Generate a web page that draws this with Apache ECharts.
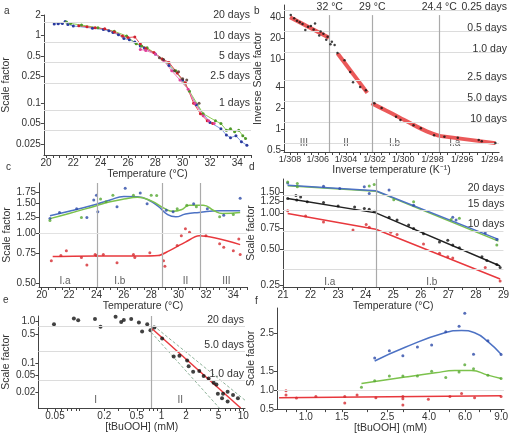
<!DOCTYPE html>
<html>
<head>
<meta charset="utf-8">
<script src="https://cdn.jsdelivr.net/npm/echarts@6/dist/echarts.min.js"></script>
<style>
  html, body { margin: 0; background: #fff; }
  #chart { width: 512px; height: 435px; }
</style>
</head>
<body>
<div id="chart"></div>
<script>
var FONT = '"Liberation Sans", Arial, sans-serif';
var lg = function (v) { return Math.log10(v); };
var inv = function (v) { return 1 / v; };
var ident = function (v) { return v; };

// ---------- panel a : scale factor vs temperature
var aXLabels = [20, 22, 24, 26, 28, 30, 32, 34];
var aYLabels = [2, 1, 0.5, 0.25, 0.1, 0.05, 0.025];
var aDayLevels = [1.6, 0.8, 0.4, 0.2, 0.08, 0.04];
var aDayNames = ['20 days', '10 days', '5 days', '2.5 days', '1 days', ''];
var aBlue = [[20.6,1.47],[20.9,1.49],[21.2,1.5],[21.4,1.6],[21.6,1.45],[22.0,1.38],[23.4,1.28],[24.2,1.22],[24.6,1.17],[24.9,1.1],[25.3,1.02],[25.7,0.9],[26.1,0.86],[26.5,0.8],[26.9,0.7],[27.2,0.65],[28.0,0.53],[29.0,0.36],[30.0,0.22],[31.0,0.095],[32.0,0.052],[32.8,0.042],[33.2,0.034],[33.5,0.031],[33.9,0.033],[34.3,0.027],[34.7,0.024]];
var aGreen = [[21.5,1.58],[21.8,1.5],[22.6,1.42],[23.8,1.3],[25.0,1.15],[25.9,0.98],[26.6,0.75],[27.0,0.7],[27.4,0.66],[28.5,0.45],[29.5,0.3],[30.5,0.15],[31.5,0.07],[32.4,0.055],[32.8,0.05],[33.2,0.04],[33.5,0.042],[33.8,0.038],[34.1,0.04],[34.4,0.033],[34.6,0.03]];
var aRed = [[22.4,1.39],[23.0,1.34],[23.6,1.3],[24.3,1.25],[25.0,1.12],[25.6,0.98],[26.0,0.93],[26.5,0.95],[26.9,0.75],[27.3,0.64],[27.9,0.56],[28.5,0.45],[29.0,0.4],[29.6,0.28],[30.2,0.2],[30.8,0.1],[31.3,0.07],[31.8,0.055],[32.2,0.05]];
var aPink = [[26.9,0.62],[27.3,0.6],[28.0,0.53],[28.6,0.43],[29.2,0.3],[29.8,0.22],[30.4,0.16],[30.9,0.1],[31.5,0.065],[31.9,0.055],[32.3,0.05]];
var aDark = [[28.3,0.47],[28.6,0.44],[29.4,0.3],[29.7,0.29],[30.0,0.23],[30.3,0.22],[31.2,0.1]];

// ---------- panel b : inverse scale factor vs inverse temperature (K)
var bXLabels = [308, 306, 304, 302, 300, 298, 296, 294];
var bYLabels = [40, 20, 10, 4, 2, 1, 0.5];
var bDayLevels = [50, 25, 12.5, 5, 2.5, 1.25, 0.625];
var bDayNames = ['0.25 days', '0.5 days', '1.0 day', '2.5 days', '5.0 days', '10 days', ''];
var bBreaks = [305.15, 302.15, 297.55];
var bBreakNames = ['32 \u00b0C', '29 \u00b0C', '24.4 \u00b0C'];
var bPoints = [[307.95,43],[307.7,38.7],[307.5,35.6],[307.3,34],[307.1,32],[306.9,26.4],[306.7,29.3],[306.5,30],[306.3,26.8],[306.2,32.7],[305.9,22],[305.8,25],[305.6,23.2],[305.4,19],[305.3,21],[305.1,16.5],[305.0,17.9],[304.8,16.1],[304.6,12.3],[304.1,9.7],[303.7,6.6],[303.5,4.7],[303.0,4.0],[302.6,3.6],[302.0,2.34],[301.5,2.0],[300.5,1.5],[300.2,1.35],[299.3,1.14],[298.8,1.03],[297.9,0.82],[297.2,0.78],[296.3,0.75],[294.9,0.70],[294.7,0.67],[293.8,0.63]];
var bFitIII = [[308.0,40],[305.2,20.3]];
var bFitII = [[304.6,12.2],[302.5,3.3]];
var bFitIb = [[302.2,2.35],[301.2,1.85],[300.3,1.48],[299.3,1.15],[298.4,0.93],[297.55,0.8]];
var bFitIa = [[297.55,0.8],[293.8,0.63]];
var bRegions = [[307.0,0.625,'III'],[304.0,0.625,'II'],[300.6,0.625,'I.b'],[296.5,0.625,'I.a']];

// ---------- panel c : scale factor vs temperature, three strains
var cXLabels = [20, 22, 24, 26, 28, 30, 32, 34];
var cYLabels = [2.0, 1.75, 1.5, 1.25, 1.0, 0.75, 0.5];
var cBreaks = [24.05, 28.8, 31.6];
var cBluePts = [[20.6,1.22],[21.3,1.33],[22.55,1.40],[23.3,1.24],[23.8,1.58],[24.0,1.69],[24.1,1.34],[25.5,1.44],[26.1,1.86],[27.2,1.74],[27.7,1.50],[29.1,1.37],[29.6,1.34],[31.1,1.50],[32.1,1.40],[33.3,1.28],[34.5,1.62]];
var cGreenPts = [[20.6,1.19],[22.9,1.24],[24.3,1.60],[24.7,1.54],[25.2,1.69],[26.7,1.69],[28.0,1.69],[28.4,1.68],[29.9,1.40],[30.6,1.47],[31.3,1.44],[33.0,1.25],[34.0,1.29]];
var cRedPts = [[20.7,0.68],[21.4,0.73],[21.8,0.78],[22.9,0.71],[23.3,0.64],[23.9,0.74],[24.0,0.73],[24.5,0.74],[25.5,0.66],[26.7,0.74],[26.8,0.71],[27.9,0.76],[28.9,0.68],[29.0,0.63],[29.9,0.84],[30.2,0.96],[30.5,1.06],[30.8,1.01],[32.0,0.96],[33.0,0.86],[33.3,0.82],[34.0,0.78],[34.4,0.92],[34.5,0.74]];
var cBlueFit = [[20.6,1.27],[22,1.35],[24,1.49],[25,1.58],[26,1.66],[27,1.65],[27.8,1.58],[28.5,1.45],[29.2,1.29],[29.8,1.25],[30.5,1.3],[31.5,1.33],[33,1.36],[34.5,1.36]];
var cGreenFit = [[20.6,1.22],[22,1.31],[24,1.46],[25,1.54],[26,1.6],[27,1.64],[28,1.56],[29,1.4],[29.6,1.35],[30.2,1.38],[30.8,1.47],[31.8,1.47],[32.6,1.36],[33.2,1.31],[34.5,1.33]];
var cRedFit = [[20.8,0.72],[24,0.725],[27,0.725],[28.5,0.73],[29.3,0.78],[30.5,0.88],[31.5,0.96],[34.5,0.85]];
var cRegions = [[21.7,0.51,'I.a'],[25.7,0.51,'I.b'],[30.5,0.51,'II'],[33.5,0.51,'III']];

// ---------- panel d : scale factor vs temperature, 10/15/20 days
var dXLabels = [21, 22, 23, 24, 25, 26, 27, 28, 29];
var dYLabels = [1.75, 1.5, 1.25, 1.0, 0.75, 0.5, 0.25];
var dDayLevels = [1.405, 1.05, 0.70, 0.49, 0.34];
var dDayNames = ['20 days', '15 days', '10 days', '', ''];
var dBreak = 24.4;
var dBluePts = [[21.17,1.78],[22.47,1.67],[23.06,1.60],[23.95,1.65],[24.13,1.45],[24.85,1.55],[25.74,1.16],[27.16,0.92],[27.28,0.87],[28.34,0.68],[28.76,0.60]];
var dGreenPts = [[21.17,1.81],[21.52,1.76],[21.52,1.65],[24.13,1.68],[24.31,1.73],[25.02,1.29],[25.74,1.24],[27.1,0.88],[27.4,0.90],[28.76,0.54]];
var dBlackPts = [[21.17,1.32],[21.47,1.40],[21.5,1.28],[21.64,1.36],[21.88,1.24],[22.47,1.22],[23.0,1.14],[23.6,1.12],[23.95,1.09],[24.13,1.07],[24.31,1.03],[24.85,0.92],[25.14,0.87],[25.56,0.79],[25.74,0.74],[26.1,0.67],[26.68,0.57],[26.98,0.59],[27.16,0.54],[27.4,0.51],[28.22,0.43],[28.4,0.40],[28.76,0.37],[28.88,0.35]];
var dRedPts = [[21.17,1.04],[21.82,0.94],[22.47,0.84],[23.54,0.72],[24.02,0.80],[24.13,0.76],[24.91,0.69],[25.14,0.66],[26.1,0.55],[26.68,0.46],[26.98,0.43],[27.16,0.42],[28.34,0.35],[28.88,0.27]];
var dBlueFit = [[21.17,1.70],[24.37,1.53],[24.42,1.55],[28.82,0.60]];
var dGreenFit = [[21.17,1.69],[24.37,1.52],[24.42,1.56],[28.82,0.58]];
var dBlackFit = [[21.17,1.32],[24.37,1.0],[28.88,0.36]];
var dRedFit = [[21.17,0.99],[24.37,0.73],[28.88,0.28]];
var dRegions = [[22.7,0.265,'I.a'],[26.4,0.265,'I.b']];

// ---------- panel e : scale factor vs [tBuOOH]
var eXLabels = [0.05, 0.2, 0.5, 1, 2, 5, 10];
var eYLabels = [1.0, 0.5, 0.1, 0.05, 0.02];
var eYTexts = ['1.0', '0.5', '0.1', '0.05', '0.02'];
var eDayLevels = [0.77, 0.19, 0.038];
var eDayNames = ['20 days', '5.0 days', '1.0 day'];
var eBreak = 0.75;
var ePoints = [[0.0486,0.87],[0.085,1.2],[0.096,1.08],[0.154,1.16],[0.18,0.75],[0.275,1.32],[0.322,0.98],[0.347,1.1],[0.427,1.16],[0.53,0.95],[0.58,0.58],[0.67,0.87],[0.734,0.62],[0.82,0.72],[1.02,0.39],[1.41,0.143],[1.66,0.15],[2.06,0.115],[2.15,0.083],[2.44,0.061],[2.9,0.064],[3.28,0.048],[3.77,0.042],[4.34,0.033],[4.7,0.030],[4.89,0.018],[5.66,0.018],[5.5,0.014],[6.44,0.020],[6.44,0.0117],[7.5,0.0168],[8.6,0.014]];
var eFit = [[0.75,0.7],[9.3,0.0081]];
var eFitHigh = [[0.8,0.8],[10.5,0.0125]];
var eFitLow = [[0.75,0.55],[5.1,0.0081]];
var eRegions = [[0.157,0.0128,'I'],[1.7,0.0128,'II']];

// ---------- panel f : scale factor vs [tBuOOH], three strains
var fXLabels = [1.0, 1.5, 2.5, 4.0, 6.0, 9.0];
var fYLabels = [0.5, 1.0, 1.5, 2.5];
var fBluePts = [[2.17,1.84],[2.56,2.03],[2.98,1.90],[3.51,2.13],[4.12,2.18],[4.83,2.53],[5.61,2.67],[5.98,3.01],[6.6,1.94],[7.76,2.29],[9.0,1.93]];
var fGreenPts = [[1.87,1.07],[2.17,1.24],[2.56,1.37],[2.98,1.37],[3.51,1.37],[4.12,1.49],[4.83,1.33],[5.61,1.47],[5.98,1.66],[6.6,1.56],[7.76,1.39],[9.0,1.30]];
var fRedPts = [[0.8,0.98],[0.8,0.87],[0.9,0.79],[1.12,0.83],[1.55,0.83],[1.55,0.66],[1.78,0.87],[2.2,0.80],[2.98,0.83],[2.98,0.61],[2.98,0.77],[3.97,0.76],[5.06,0.83],[5.77,0.91],[6.68,0.80],[9.0,0.83]];
var fBlueFit = [[2.17,1.76],[3.06,2.12],[4.78,2.50],[5.77,2.56],[6.68,2.5],[7.76,2.27],[9.0,1.94]];
var fGreenFit = [[1.87,1.17],[3.06,1.34],[4.3,1.45],[5.35,1.51],[6.44,1.51],[7.76,1.39],[9.0,1.30]];
var fRedFit = [[0.74,0.80],[9.0,0.85]];

// ---------- helpers
function tr(arr, fx, fy) {
  return arr.map(function (p) { var o = [fx(p[0]), fy(p[1])]; if (p.length > 2) o.push(p[2]); return o; });
}
function steps(a, b, s) { var r = []; for (var v = a; v <= b + 1e-9; v += s) r.push(+v.toFixed(4)); return r; }
function axis(grid, f, min, max, labels, texts, ticks, opts, fs) {
  var lv = labels.map(f);
  var ax = {
    type: 'value', gridIndex: grid, min: f(min), max: f(max),
    axisLine: { show: true, onZero: false, lineStyle: { color: '#444', width: 1 } },
    axisTick: { show: true, length: 3, customValues: (ticks || labels).map(f), lineStyle: { color: '#444' } },
    axisLabel: {
      customValues: lv, fontSize: fs || 10, color: '#333', fontFamily: FONT, margin: 3,
      formatter: function (v) {
        var best = 0;
        lv.forEach(function (x, i) { if (Math.abs(x - v) < Math.abs(lv[best] - v)) best = i; });
        return texts[best];
      }
    },
    splitLine: { show: false },
    nameTextStyle: { fontSize: 10.5, color: '#333', fontFamily: FONT },
    nameLocation: 'middle'
  };
  if (f === inv) { ax.min = 1 / min; ax.max = 1 / max; }
  return Object.assign(ax, opts || {});
}
function txt(arr) { return arr.map(String); }
function fixed(arr, n) { return arr.map(function (v) { return v.toFixed(n); }); }

function hLines(levels, names, fy, offset) {
  return levels.map(function (v, i) {
    return { yAxis: fy(v), name: names[i], label: { show: !!names[i], offset: offset || [0, 0] } };
  });
}
function dayMark(levels, names, fy, offset) {
  return {
    silent: true, symbol: 'none', animation: false,
    lineStyle: { color: '#dcdcdc', width: 1, type: 'solid' },
    label: { position: 'insideEndTop', formatter: '{b}', color: '#333', fontSize: 10.5, fontFamily: FONT, distance: 1 },
    data: hLines(levels, names, fy, offset)
  };
}
function vMark(xs, fx) {
  return {
    silent: true, symbol: 'none', animation: false,
    lineStyle: { color: '#aaa', width: 1.2, type: 'solid' },
    label: { show: false },
    data: xs.map(function (x) { return { xAxis: fx(x) }; })
  };
}
function lineS(idx, data, color, width, opts) {
  return Object.assign({
    type: 'line', xAxisIndex: idx, yAxisIndex: idx, data: data, showSymbol: false, symbol: 'none',
    lineStyle: { color: color, width: width }, z: 3, silent: true
  }, opts || {});
}
function dotS(idx, data, color, size, opts) {
  return Object.assign({
    type: 'scatter', xAxisIndex: idx, yAxisIndex: idx, data: data, symbolSize: size || 3,
    itemStyle: { color: color }, z: 4, silent: true
  }, opts || {});
}
function regionS(idx, data) {
  return {
    type: 'scatter', xAxisIndex: idx, yAxisIndex: idx, data: data, symbolSize: 1, silent: true,
    itemStyle: { color: 'rgba(0,0,0,0)' },
    label: { show: true, position: 'inside', formatter: function (p) { return p.data[2]; }, color: '#333', fontSize: 10, fontFamily: FONT }
  };
}
function ptLine(idx, data, lineColor, dotColor) {
  return {
    type: 'line', xAxisIndex: idx, yAxisIndex: idx, data: data, symbol: 'circle', symbolSize: 3,
    lineStyle: { color: lineColor, width: 1 }, itemStyle: { color: dotColor }, z: 3, silent: true
  };
}

var grids = [
  { left: 38, top: 15, width: 213, height: 140 },
  { left: 284, top: 5, width: 215, height: 147 },
  { left: 39, top: 183, width: 208, height: 104 },
  { left: 283, top: 179, width: 225, height: 108 },
  { left: 38, top: 316, width: 207, height: 92 },
  { left: 277, top: 308, width: 227, height: 104 }
];

var xAxes = [
  axis(0, ident, 19.85, 35, aXLabels, txt(aXLabels), steps(20, 35, 0.5), { name: 'Temperature (\u00b0C)', nameGap: 14 }),
  axis(1, inv, 308.44, 293.56, bXLabels, bXLabels.map(function (v) { return '1/' + v; }), steps(294, 308, 0.5), { name: 'Inverse temperature (K\u207b\u00b9)', nameGap: 13 }, 9),
  axis(2, ident, 19.8, 35, cXLabels, txt(cXLabels), steps(20, 35, 0.5), { name: 'Temperature (\u00b0C)', nameGap: 13 }),
  axis(3, ident, 21, 29, dXLabels, txt(dXLabels), steps(21, 29, 0.5), { name: 'Temperature (\u00b0C)', nameGap: 13 }),
  axis(4, lg, 0.0313, 10.5, eXLabels, txt(eXLabels), [0.04,0.05,0.06,0.07,0.08,0.09,0.1,0.2,0.3,0.4,0.5,0.6,0.7,0.8,0.9,1,2,3,4,5,6,7,8,9,10], { name: '[tBuOOH] (mM)', nameGap: 13 }),
  axis(5, lg, 0.723, 9.3, fXLabels, fixed(fXLabels, 1), [0.8,0.9,1,1.25,1.5,2,2.5,3,4,5,6,7,8,9], { name: '[tBuOOH] (mM)', nameGap: 13 })
];
var yAxes = [
  axis(0, lg, 0.0172, 2, aYLabels, txt(aYLabels), null, { name: 'Scale factor', nameGap: 24 }),
  axis(1, lg, 0.47, 60, bYLabels, txt(bYLabels), null, { name: 'Inverse Scale factor', nameGap: 17 }),
  axis(2, lg, 0.472, 2.0, cYLabels, fixed(cYLabels, 2), null, { name: 'Scale factor', nameGap: 23 }),
  axis(3, lg, 0.24, 1.92, dYLabels, fixed(dYLabels, 2), null, { name: 'Scale factor', nameGap: 24 }),
  axis(4, lg, 0.0081, 1.37, eYLabels, eYTexts, null, { name: 'Scale factor', nameGap: 22 }),
  axis(5, ident, 0.5, 3.15, fYLabels, fixed(fYLabels, 1), null, { name: 'Scale factor', nameGap: 18 })
];

var bSeg = function (d) { return tr(d, inv, lg); };
var RED_B = 'rgba(232,60,60,0.85)';

var series = [
  // a
  Object.assign(ptLine(0, tr(aBlue, ident, lg), '#7f9be0', '#2b3a9e'), { markLine: dayMark(aDayLevels, aDayNames, lg) }),
  ptLine(0, tr(aGreen, ident, lg), '#8fcf5a', '#4f9a2a'),
  ptLine(0, tr(aRed, ident, lg), '#e8505a', '#d0202e'),
  ptLine(0, tr(aPink, ident, lg), '#f07ab8', '#e0409a'),
  dotS(0, tr(aDark, ident, lg), '#4a3020', 3),
  // b
  Object.assign(lineS(1, bSeg(bFitIII), RED_B, 4), {
    markLine: dayMark(bDayLevels, bDayNames, lg, [9, 3])
  }),
  Object.assign(lineS(1, bSeg(bFitII), RED_B, 4), {
    markLine: {
      silent: true, symbol: 'none', animation: false,
      lineStyle: { color: '#aaa', width: 1.2, type: 'solid' },
      label: { show: true, position: 'end', formatter: '{b}', color: '#333', fontSize: 10.5, fontFamily: FONT, distance: 2 },
      data: bBreaks.map(function (t, i) {
        return [{ coord: [1 / t, lg(0.47)], name: bBreakNames[i] }, { coord: [1 / t, lg(43)], name: bBreakNames[i] }];
      })
    }
  }),
  lineS(1, bSeg(bFitIb), RED_B, 4, { smooth: 0.4 }),
  lineS(1, bSeg(bFitIa), RED_B, 4),
  dotS(1, tr(bPoints, inv, lg), '#111', 2.5, { z: 5 }),
  regionS(1, tr(bRegions, inv, lg)),
  // c
  Object.assign(lineS(2, tr(cBlueFit, ident, lg), '#4d72c4', 1.5, { smooth: 0.5 }), {
    markLine: {
      silent: true, symbol: 'none', animation: false, label: { show: false },
      lineStyle: { color: '#aaa', width: 1.2, type: 'solid' },
      data: cBreaks.map(function (x) { return { xAxis: x }; }).concat([{ yAxis: 0, lineStyle: { color: '#e2e2e2', width: 1 } }])
    }
  }),
  lineS(2, tr(cGreenFit, ident, lg), '#7cc24c', 1.5, { smooth: 0.5 }),
  lineS(2, tr(cRedFit, ident, lg), '#e8383d', 1.5, { smooth: 0.3 }),
  dotS(2, tr(cBluePts, ident, lg), '#2c4aa8'),
  dotS(2, tr(cGreenPts, ident, lg), '#56a832'),
  dotS(2, tr(cRedPts, ident, lg), '#d42a30'),
  regionS(2, cRegions.map(function (p) { return [p[0], lg(p[1]), p[2]]; })),
  // d
  Object.assign(lineS(3, tr(dGreenFit, ident, lg), '#7cc24c', 1.5), {
    markLine: dayMark(dDayLevels, dDayNames, lg, [2, 0])
  }),
  Object.assign(lineS(3, tr(dBlueFit, ident, lg), '#4d72c4', 1.5), { markLine: vMark([dBreak], ident) }),
  lineS(3, tr(dBlackFit, ident, lg), '#222', 1.5),
  lineS(3, tr(dRedFit, ident, lg), '#e8383d', 1.5),
  dotS(3, tr(dBluePts, ident, lg), '#2c4aa8'),
  dotS(3, tr(dGreenPts, ident, lg), '#56a832'),
  dotS(3, tr(dBlackPts, ident, lg), '#111'),
  dotS(3, tr(dRedPts, ident, lg), '#d42a30'),
  regionS(3, tr(dRegions, ident, lg)),
  // e
  Object.assign(lineS(4, tr(eFit, lg, lg), '#e8383d', 1.5), { markLine: dayMark(eDayLevels, eDayNames, lg) }),
  Object.assign(lineS(4, tr(eFitHigh, lg, lg), '#8fb39a', 1, { lineStyle: { color: '#8fb39a', width: 1, type: [3, 2] } }), { markLine: vMark([eBreak], lg) }),
  lineS(4, tr(eFitLow, lg, lg), '#8fb39a', 1, { lineStyle: { color: '#8fb39a', width: 1, type: [3, 2] } }),
  dotS(4, tr(ePoints, lg, lg), '#111', 4),
  regionS(4, tr(eRegions, lg, lg)),
  // f
  Object.assign(lineS(5, tr(fBlueFit, lg, ident), '#4d72c4', 1.5, { smooth: 0.5 }), {
    markLine: {
      silent: true, symbol: 'none', animation: false, label: { show: false },
      lineStyle: { color: '#e2e2e2', width: 1, type: 'solid' }, data: [{ yAxis: 1.0 }]
    }
  }),
  lineS(5, tr(fGreenFit, lg, ident), '#7cc24c', 1.5, { smooth: 0.5 }),
  lineS(5, tr(fRedFit, lg, ident), '#e8383d', 1.5),
  dotS(5, tr(fBluePts, lg, ident), '#2c4aa8'),
  dotS(5, tr(fGreenPts, lg, ident), '#56a832'),
  dotS(5, tr(fRedPts, lg, ident), '#d42a30')
];

var letters = [['a', 4, 6], ['b', 254, 6], ['c', 6, 162], ['d', 249, 162], ['e', 3, 295], ['f', 255, 296]];

var chart = echarts.init(document.getElementById('chart'));
chart.setOption({
  animation: false,
  backgroundColor: '#fff',
  textStyle: { fontFamily: FONT },
  title: letters.map(function (l) {
    return { text: l[0], left: l[1], top: l[2], padding: 0, textStyle: { fontSize: 10, fontWeight: 'normal', color: '#333', fontFamily: FONT } };
  }),
  grid: grids,
  xAxis: xAxes,
  yAxis: yAxes,
  series: series
});
</script>
</body>
</html>
